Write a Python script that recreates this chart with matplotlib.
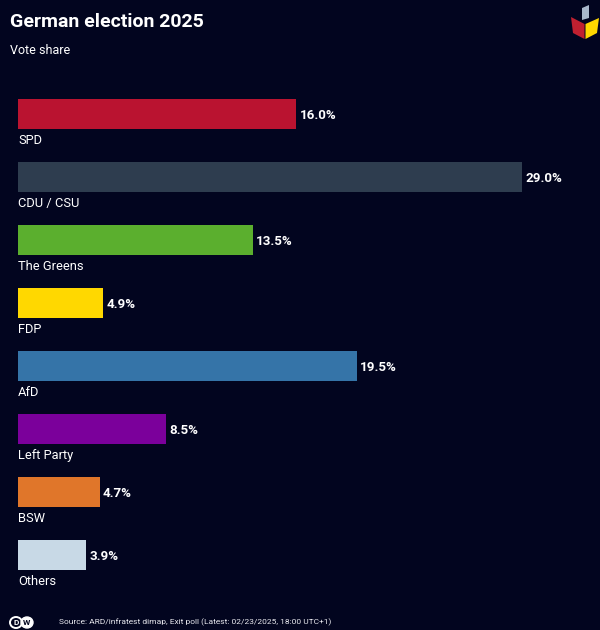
import matplotlib
matplotlib.use("Agg")
import matplotlib.pyplot as plt
from matplotlib.patches import Polygon, Ellipse

parties = ["SPD", "CDU / CSU", "The Greens", "FDP", "AfD", "Left Party", "BSW", "Others"]
shares = [16.0, 29.0, 13.5, 4.9, 19.5, 8.5, 4.7, 3.9]
colors = ["#BA1330", "#2E3D4F", "#5BAF2E", "#FFD800", "#3574A8", "#7B009B", "#E0762A", "#C8D9E6"]

bg = "#02051F"
W, H = 600, 630

plt.rcParams["font.family"] = ["Roboto", "DejaVu Sans"]

fig = plt.figure(figsize=(6, 6.3), dpi=100, facecolor=bg)

# axes placed in pixels so the bars line up with the reference
ax = fig.add_axes([18 / W, 1 - 586.5 / H, 582 / W, 504 / H])
ax.set_facecolor(bg)
ax.barh(parties, shares, height=0.476, color=colors)
ax.set_xlim(0, 582 / 17.38)
ax.set_ylim(7.5, -0.5)
ax.axis("off")

for i, (name, val) in enumerate(zip(parties, shares)):
    ax.annotate(name, (0, i), xytext=(0, -19.1), textcoords="offset points",
                color="white", fontsize=9.3, va="center", ha="left")
    ax.annotate(f"{val:.1f}%", (val, i), xytext=(2.4, -1.1), textcoords="offset points",
                color="white", fontsize=9.6, fontweight="bold", va="center", ha="left")

fig.text(10 / W, 1 - 22 / H, "German election 2025", color="white", fontsize=14,
         fontweight="bold", va="center", ha="left")
fig.text(10 / W, 1 - 50 / H, "Vote share", color="white", fontsize=9, va="center", ha="left")
fig.text(59 / W, 1 - 622 / H, "Source: ARD/infratest dimap, Exit poll (Latest: 02/23/2025, 18:00 UTC+1)",
         color="#E8E8EE", fontsize=6.07, va="center", ha="left")

# overlay in pixel coordinates for logos
ov = fig.add_axes([0, 0, 1, 1])
ov.set_xlim(0, W)
ov.set_ylim(H, 0)
ov.axis("off")
ov.patch.set_alpha(0)

ov.add_patch(Polygon([[571, 17], [584.5, 24], [584.5, 39], [573, 33]], color="#C02030", lw=0))
ov.add_patch(Polygon([[585.5, 24], [599, 18], [597, 33], [585.5, 39]], color="#FFD800", lw=0))
ov.add_patch(Polygon([[582, 8], [589, 5], [589, 18], [582, 20]], color="#A9B8CC", lw=0))

ov.add_patch(Ellipse((16, 622.5), 12, 11, fc="none", ec="white", lw=1.4))
ov.add_patch(Ellipse((27, 622.5), 12, 11, fc="white", ec="white", lw=1.0))
ov.text(16, 622.7, "D", color="white", fontsize=6, fontweight="bold", ha="center", va="center")
ov.text(27, 622.7, "W", color=bg, fontsize=6, fontweight="bold", ha="center", va="center")

fig.savefig("out.png", dpi=100, facecolor=bg)
